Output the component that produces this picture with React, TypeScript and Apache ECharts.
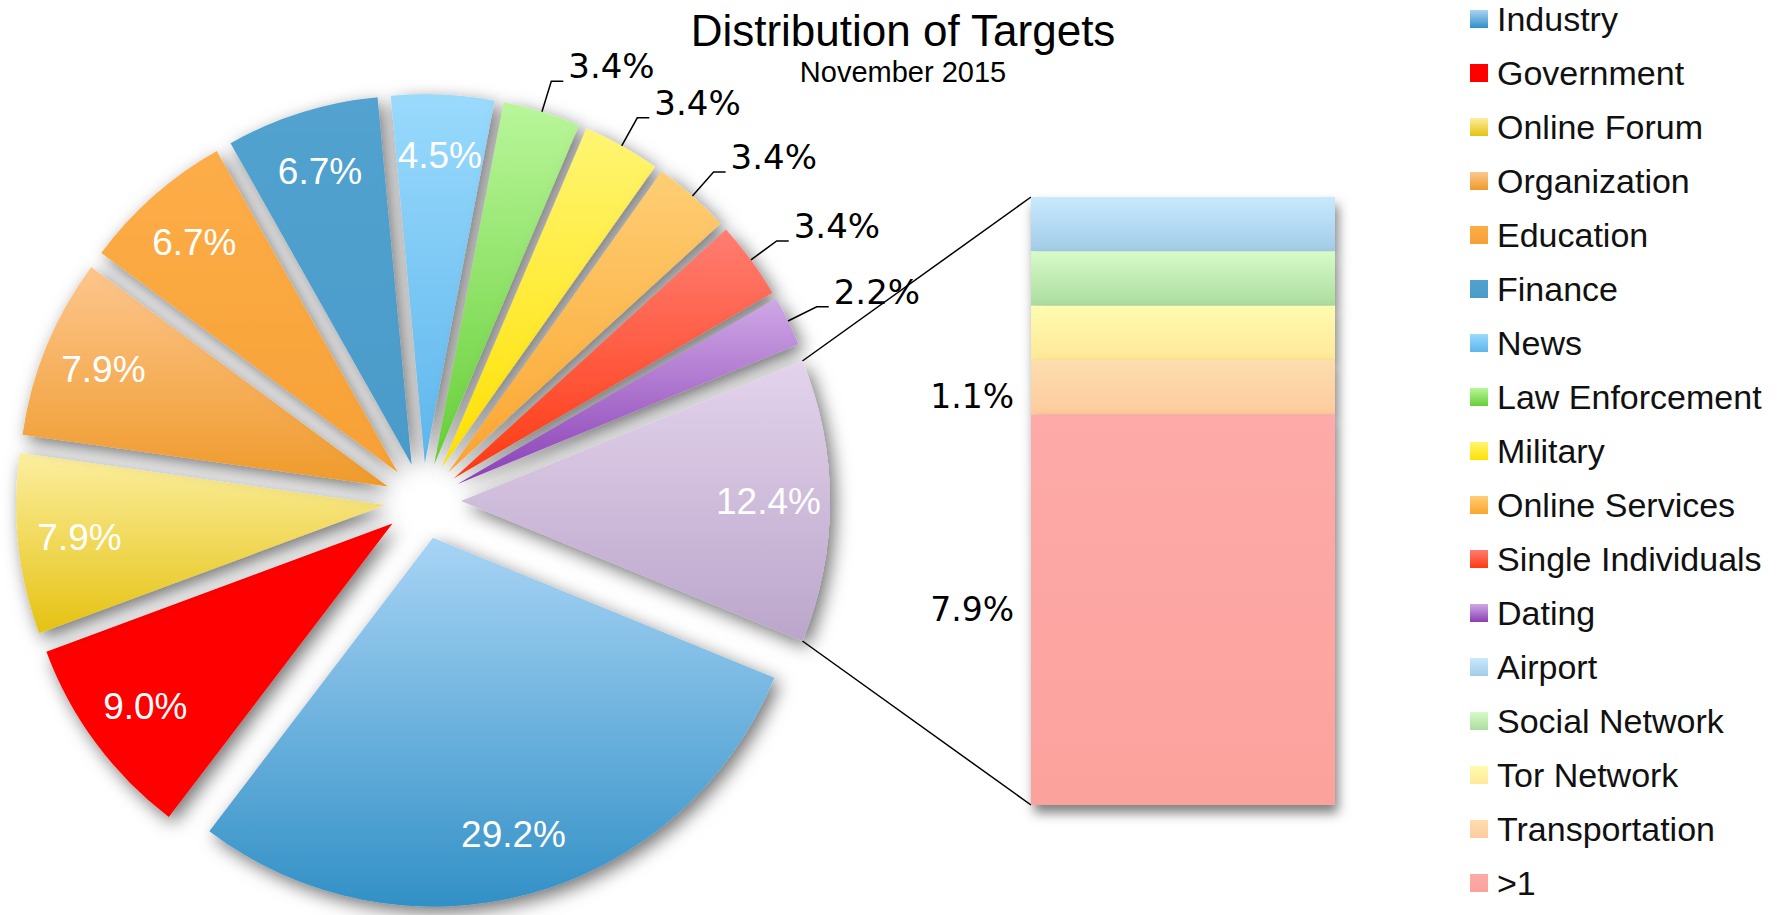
import React, { useEffect, useRef } from "react";
import * as echarts from "echarts";

// ---- data ----
const pieNames = [
  "Industry", "Government", "Online Forum", "Organization", "Education", "Finance",
  "News", "Law Enforcement", "Military", "Online Services", "Single Individuals", "Dating", "Other",
];
const pieValues = [29.2, 9.0, 7.9, 7.9, 6.7, 6.7, 4.5, 3.4, 3.4, 3.4, 3.4, 2.2, 12.4];
const barNames = ["Airport", "Social Network", "Tor Network", "Transportation", ">1"];
const barValues = [1.1, 1.1, 1.1, 1.1, 7.9];
const barLabelShown = [false, false, false, true, true];

// ---- colours (top, bottom) ----
const pieColors: [string, string][] = [
  ["#A8D4F5", "#3290C6"],
  ["#FF0000", "#FF0000"],
  ["#FCEFA0", "#E5C211"],
  ["#FDC68E", "#EF9A2A"],
  ["#FDAD48", "#F6A136"],
  ["#52A2CF", "#4B9BCA"],
  ["#9ADAFD", "#5DB6EC"],
  ["#B9F69A", "#67CF38"],
  ["#FFF572", "#FFE100"],
  ["#FECE74", "#FBA52F"],
  ["#FF7D72", "#FF3A12"],
  ["#CEA8E5", "#8A3EB6"],
  ["#E3D3EC", "#BBA6CB"],
];
const barColors: [string, string][] = [
  ["#C8E9FE", "#A2CCE8"],
  ["#D6FBC8", "#ACDD9F"],
  ["#FFFBB0", "#FFE899"],
  ["#FDDDAE", "#FDCB9E"],
  ["#FDAAA8", "#FCA29D"],
];

const grad = (c: [string, string]) => ({
  type: "linear", x: 0, y: 0, x2: 0, y2: 1,
  colorStops: [{ offset: 0, color: c[0] }, { offset: 1, color: c[1] }],
});

// ---- layout ----
const W = 1782, H = 915;
const CX = 423, CY = 501, R = 369, OFF = 38;
const GRID_LEFT = 1031, GRID_TOP = 197, GRID_W = 304, GRID_H = 608;

export default function App() {
  const ref = useRef<HTMLDivElement>(null);
  useEffect(() => {
    document.body.style.margin = "0";
    const chart = echarts.init(ref.current!, null, { renderer: "svg" });
    const total = pieValues.reduce((a, b) => a + b, 0);
    const otherHalfDeg = (pieValues[pieValues.length - 1] / total) * 180;
    const startAngle = -otherHalfDeg;
    const fmt = (p: any) => Number(p.value).toFixed(1) + "%";
    const fmtOut = (p: any) => "{v|" + Number(p.value).toFixed(1) + "%}\n{s|}";

    const visualData = pieNames.map((n, i) => ({
      name: n, value: pieValues[i], selected: true,
      itemStyle: { color: grad(pieColors[i]) },
    }));
    const labelData = pieNames.map((n, i) => {
      const small = pieValues[i] < 4;
      return {
        name: n, value: pieValues[i], selected: true,
        label: small
          ? {
              position: "outside", formatter: fmtOut,
              rich: {
                v: { color: "#000", fontSize: 34, fontFamily: "DejaVu Sans", lineHeight: 34 },
                s: { fontSize: 10, lineHeight: 30 },
              },
            }
          : { position: "inside" },
        labelLine: { show: small },
      };
    });

    const barTotal = barValues.reduce((a, b) => a + b, 0);
    const barSeries: any[] = [];
    for (let i = barNames.length - 1; i >= 0; i--) {
      barSeries.push({
        type: "bar", name: barNames[i], stack: "other",
        data: [barValues[i]], barWidth: "100%",
        z: 3 + i,
        itemStyle: {
          color: grad(barColors[i]),
          shadowBlur: 12, shadowColor: "rgba(0,0,0,0.5)", shadowOffsetX: 3, shadowOffsetY: 8,
        },
        label: {
          show: barLabelShown[i], position: "left", distance: 17, color: "#000",
          fontSize: 33, fontFamily: "DejaVu Sans", formatter: fmt,
          offset: [0, barValues[i] < 2 ? 9 : 0],
        },
        emphasis: { disabled: true },
      });
    }

    const hr = (otherHalfDeg * Math.PI) / 180;
    const cornerX = CX + OFF + R * Math.cos(hr);
    const cornerTop = CY - R * Math.sin(hr);
    const cornerBot = CY + R * Math.sin(hr);

    chart.setOption({
      animation: false,
      title: [
        { text: "Distribution of Targets", left: 898, top: 3, textAlign: "center",
          textStyle: { fontSize: 44, fontWeight: "normal", color: "#000", fontFamily: "Liberation Sans" } },
        { text: "November 2015", left: 898, top: 52, textAlign: "center",
          textStyle: { fontSize: 29, fontWeight: "normal", color: "#000", fontFamily: "Liberation Sans" } },
      ],
      legend: {
        orient: "vertical", left: 1470, top: 2, height: 960, padding: 0,
        itemWidth: 18, itemHeight: 18, itemGap: 20, icon: "rect",
        selectedMode: false,
        textStyle: { fontSize: 34, fontFamily: "Liberation Sans", color: "#111", padding: [0, 0, 0, 4] },
        data: [...pieNames.slice(0, pieNames.length - 1), ...barNames],
      },
      grid: { left: GRID_LEFT, top: GRID_TOP, width: GRID_W, height: GRID_H },
      xAxis: { type: "category", data: ["Other"], show: false },
      yAxis: { type: "value", min: 0, max: barTotal, show: false },
      graphic: [
        { type: "line", shape: { x1: cornerX, y1: cornerTop, x2: GRID_LEFT, y2: GRID_TOP },
          style: { stroke: "#000", lineWidth: 1.5 } },
        { type: "line", shape: { x1: cornerX, y1: cornerBot, x2: GRID_LEFT, y2: GRID_TOP + GRID_H },
          style: { stroke: "#000", lineWidth: 1.5 } },
      ],
      series: [
        {
          type: "pie", center: [CX, CY], radius: [0, R], startAngle,
          selectedMode: "multiple", selectedOffset: OFF, avoidLabelOverlap: false,
          label: { show: false }, labelLine: { show: false },
          itemStyle: { shadowBlur: 18, shadowColor: "rgba(0,0,0,0.55)", shadowOffsetX: 5, shadowOffsetY: 6 },
          select: { itemStyle: { borderWidth: 0 } },
          emphasis: { disabled: true },
          data: visualData, z: 2,
        },
        {
          type: "pie", center: [CX, CY], radius: [R * 0.65, R], startAngle,
          selectedMode: "multiple", selectedOffset: OFF, avoidLabelOverlap: false, silent: true,
          labelLayout: { hideOverlap: false },
          itemStyle: { color: "rgba(0,0,0,0)" },
          select: { itemStyle: { borderWidth: 0, color: "rgba(0,0,0,0)" } },
          emphasis: { disabled: true },
          label: { show: true, position: "inside", color: "#fff", fontSize: 37, fontFamily: "Liberation Sans", formatter: fmt },
          labelLine: { show: true, length: 32, length2: 12, lineStyle: { color: "#000", width: 1.5 } },
          data: labelData, z: 3,
        },
        ...barSeries,
      ],
    });
    return () => chart.dispose();
  }, []);
  return <div ref={ref} style={{ width: W, height: H }} />;
}
